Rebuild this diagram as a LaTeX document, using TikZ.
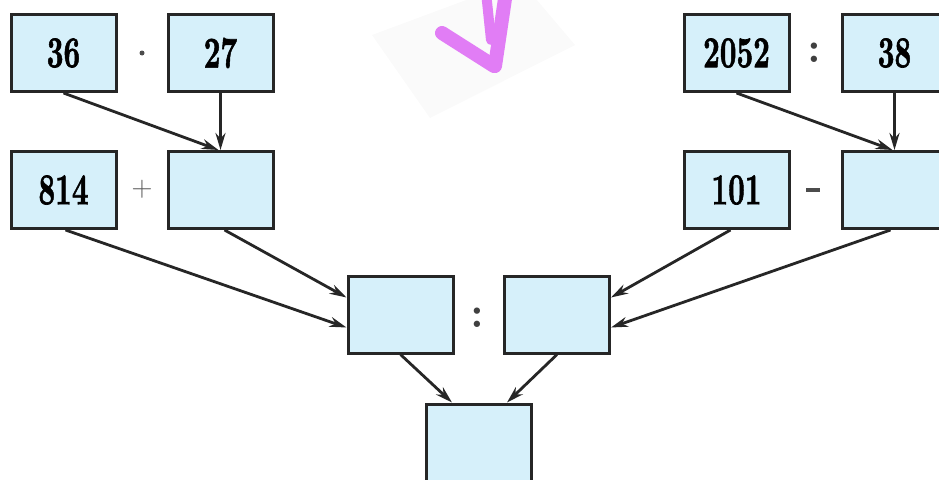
\documentclass[tikz,border=0pt]{standalone}
\usepackage{graphicx}
\usepackage{fontspec}
\newfontfamily\numfont[FakeBold=1.6]{lmroman10-bold.otf}
\usetikzlibrary{arrows.meta}
\definecolor{boxfill}{RGB}{214,240,250}
\definecolor{boxline}{RGB}{38,38,38}
\definecolor{purp}{RGB}{225,125,245}
\tikzset{
  box/.style={draw=boxline, line width=3pt, fill=boxfill, minimum width=105pt, minimum height=77pt, inner sep=0pt},
  conn/.style={draw=boxline, line width=2.8pt, -{Stealth[length=17pt,width=10pt]}},
  op/.style={text=black!75, inner sep=0pt}
}
\newcommand{\nb}[1]{\scalebox{0.66}[1]{\numfont\fontsize{44}{44}\selectfont #1}}
\begin{document}
\begin{tikzpicture}[x=1pt,y=-1pt]
\useasboundingbox (0,0) rectangle (939,479);
\clip (0,0) rectangle (939,479);
% faint background patch and purple arrow
\fill[black!2] (372,35) -- (430,118) -- (575,45) -- (520,-20) -- cycle;
\draw[purp, line width=14pt, line cap=round, line join=round] (442,33) -- (494,66);
\draw[purp, line width=14pt, line cap=round] (506,-8) -- (495,66);
\draw[purp, line width=10pt, line cap=round] (486,-8) -- (491,40);
% boxes
\node[box] (a1) at (63.5,53) {\nb{36}};
\node[box] (a2) at (220.5,53) {\nb{27}};
\node[box] (b1) at (63.5,190) {\nb{814}};
\node[box] (b2) at (220.5,190) {};
\node[box] (c1) at (736.5,53) {\nb{2052}};
\node[box] (c2) at (894.5,53) {\nb{38}};
\node[box] (d1) at (736.5,190) {\nb{101}};
\node[box] (d2) at (894.5,190) {};
\node[box] (m1) at (400.5,314.5) {};
\node[box] (m2) at (557,314.5) {};
\node[box] (r) at (479,442.5) {};
% operators
\node[op, circle, fill=black!70, minimum size=5pt] (o1) at (142,53) {};
\node[op, font=\fontsize{29}{29}\selectfont, text=black!65] (o2) at (142,189) {+};
\node[op, font=\fontsize{44}{44}\selectfont\bfseries] (o3) at (814,53) {:};
\node[op, rectangle, fill=black!70, minimum width=14pt, minimum height=3.5pt] (o4) at (813,190) {};
\node[op, font=\fontsize{44}{44}\selectfont\bfseries] (o5) at (477,318) {:};
% connectors
\draw[conn] (a1.south) -- ([xshift=-2]b2.north);
\draw[conn] (a2.south) -- (b2.north);
\draw[conn] (c1.south) -- ([xshift=-2]d2.north);
\draw[conn] (c2.south) -- (d2.north);
\draw[conn] ([xshift=2]b1.south) -- ([yshift=-13]m1.west);
\draw[conn] ([xshift=4]b2.south) -- ([yshift=17]m1.west);
\draw[conn] ([xshift=-6]d1.south) -- ([yshift=17]m2.east);
\draw[conn] ([xshift=-4]d2.south) -- ([yshift=-13]m2.east);
\draw[conn] (m1.south) -- ([xshift=-27]r.north);
\draw[conn] (m2.south) -- ([xshift=28]r.north);
\end{tikzpicture}
\end{document}
